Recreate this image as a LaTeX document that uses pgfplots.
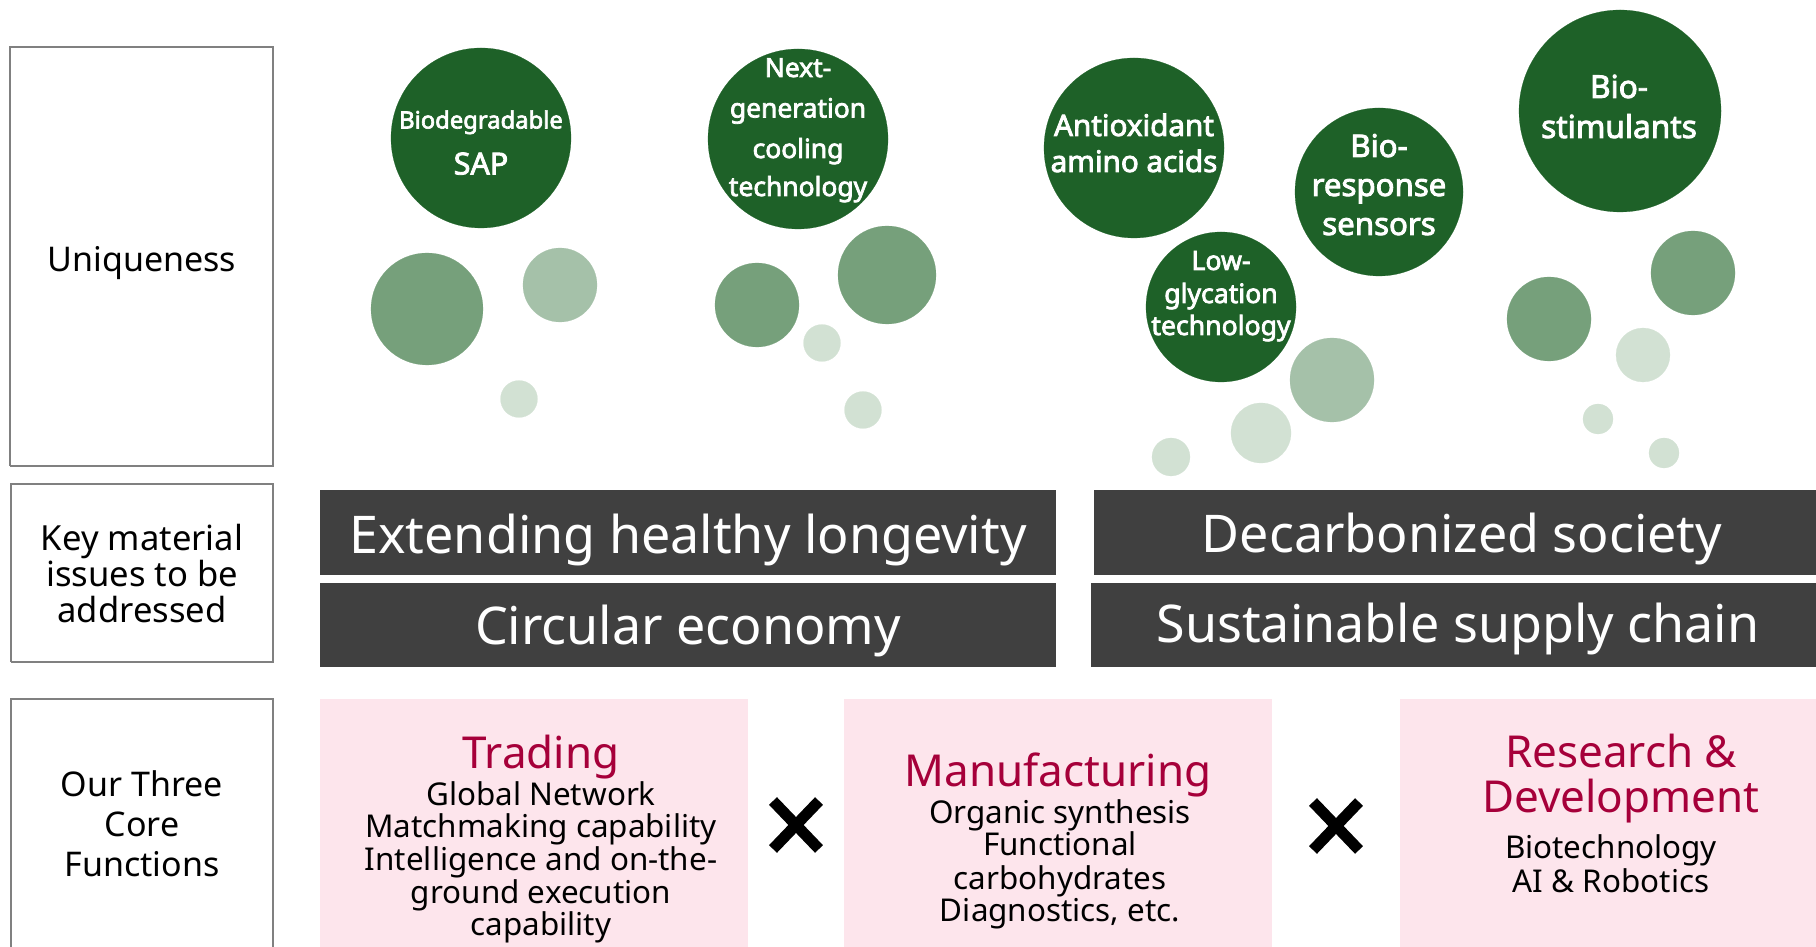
\documentclass[border=0pt]{standalone}
\usepackage{pgfplots}
\pgfplotsset{compat=1.18}
\usepackage{fontspec}
\setmainfont{Noto Sans}
\newfontfamily\bubfont{Noto Sans}[FakeBold=2.8]
\definecolor{dkg}{HTML}{1E6128}
\definecolor{mdg}{HTML}{76A07B}
\definecolor{ltg}{HTML}{A5C1A9}
\definecolor{vlg}{HTML}{D2E1D3}
\definecolor{pinkbg}{HTML}{FDE5EC}
\definecolor{crim}{HTML}{A6003A}
\definecolor{barg}{HTML}{404040}
\definecolor{boxg}{HTML}{808080}
\newcommand{\fs}[1]{\fontsize{#1bp}{#1bp}\selectfont}
\newcommand{\bt}[1]{\bubfont\fontsize{#1bp}{#1bp}\selectfont}

% bubble: #1 colour, #2 radius in px (1px = 0.5bp)
\pgfplotsset{bubble/.style 2 args={only marks, mark=*, mark size=#2*0.5bp,
  mark options={draw=#1, fill=#1, line width=0.1pt}}}

\begin{document}
\begin{tikzpicture}
\begin{axis}[at={(0,0)}, anchor=south west, scale only axis,
  width=908bp, height=473.5bp,
  xmin=0, xmax=1816, ymin=0, ymax=947,
  hide axis, clip=false, set layers]

% left label boxes
\addplot[draw=boxg, line width=1bp] coordinates {(10,481)(273,481)(273,900)(10,900)(10,481)};
\addplot[draw=boxg, line width=1bp] coordinates {(11,285)(273,285)(273,463)(11,463)(11,285)};
\addplot[draw=boxg, line width=1bp] coordinates {(11,0)(11,248)(273,248)(273,0)};

% dark bars
\addplot[fill=barg, draw=none] coordinates {(320,372)(1056,372)(1056,457)(320,457)};
\addplot[fill=barg, draw=none] coordinates {(320,280)(1056,280)(1056,364)(320,364)};
\addplot[fill=barg, draw=none] coordinates {(1094,372)(1816,372)(1816,457)(1094,457)};
\addplot[fill=barg, draw=none] coordinates {(1091,280)(1816,280)(1816,364)(1091,364)};

% pink boxes
\addplot[fill=pinkbg, draw=none] coordinates {(320,0)(748,0)(748,248)(320,248)};
\addplot[fill=pinkbg, draw=none] coordinates {(844,0)(1272,0)(1272,248)(844,248)};
\addplot[fill=pinkbg, draw=none] coordinates {(1400,0)(1816,0)(1816,248)(1400,248)};

% multiplication marks
\addplot[draw=black, line width=5.5bp] coordinates {(773,146)(819,98)};
\addplot[draw=black, line width=5.5bp] coordinates {(773,98)(819,146)};
\addplot[draw=black, line width=5.5bp] coordinates {(1313,145)(1359,97)};
\addplot[draw=black, line width=5.5bp] coordinates {(1313,97)(1359,145)};

% bubbles: very light
\addplot[bubble={vlg}{18.5}] coordinates {(519,548)};
\addplot[bubble={vlg}{18.5}] coordinates {(822,604)};
\addplot[bubble={vlg}{18.5}] coordinates {(863,537)};
\addplot[bubble={vlg}{30}] coordinates {(1261,514)};
\addplot[bubble={vlg}{19}] coordinates {(1171,490)};
\addplot[bubble={vlg}{27}] coordinates {(1643,592)};
\addplot[bubble={vlg}{15}] coordinates {(1598,528)};
\addplot[bubble={vlg}{15}] coordinates {(1664,494)};
% light
\addplot[bubble={ltg}{37}] coordinates {(560,662)};
\addplot[bubble={ltg}{42}] coordinates {(1332,567)};
% medium
\addplot[bubble={mdg}{56}] coordinates {(427,638)};
\addplot[bubble={mdg}{42}] coordinates {(757,642)};
\addplot[bubble={mdg}{49}] coordinates {(887,672)};
\addplot[bubble={mdg}{42}] coordinates {(1549,628)};
\addplot[bubble={mdg}{42}] coordinates {(1693,674)};
% dark
\addplot[bubble={dkg}{90}] coordinates {(481,809)};
\addplot[bubble={dkg}{90}] coordinates {(798,808)};
\addplot[bubble={dkg}{90}] coordinates {(1134,799)};
\addplot[bubble={dkg}{75}] coordinates {(1221,640)};
\addplot[bubble={dkg}{84}] coordinates {(1379,755)};
\addplot[bubble={dkg}{101}] coordinates {(1620,836)};

\begin{pgfonlayer}{axis foreground}
% left labels
\node[anchor=base, inner sep=0pt] at (142,675) {\fs{17}Uniqueness};
\node[anchor=base, inner sep=0pt] at (142,396) {\fs{17.3}Key material};
\node[anchor=base, inner sep=0pt] at (142,360) {\fs{17.3}issues to be};
\node[anchor=base, inner sep=0pt] at (142,324) {\fs{17.3}addressed};
\node[anchor=base, inner sep=0pt] at (142,150) {\fs{17}Our Three};
\node[anchor=base, inner sep=0pt] at (142,110) {\fs{17}Core};
\node[anchor=base, inner sep=0pt] at (142,70) {\fs{17}Functions};

% bar texts
\node[anchor=base, inner sep=0pt, text=white] at (688,393) {\fs{26}Extending healthy longevity};
\node[anchor=base, inner sep=0pt, text=white] at (688,302) {\fs{26}Circular economy};
\node[anchor=base, inner sep=0pt, text=white] at (1462,394) {\fs{26}Decarbonized society};
\node[anchor=base, inner sep=0pt, text=white] at (1458,304) {\fs{26}Sustainable supply chain};

% pink box texts
\node[anchor=base, inner sep=0pt, text=crim] at (541,178) {\fs{22}Trading};
\node[anchor=base, inner sep=0pt] at (541,141) {\fs{15.7}Global Network};
\node[anchor=base, inner sep=0pt] at (541,109) {\fs{15.7}Matchmaking capability};
\node[anchor=base, inner sep=0pt] at (541,76) {\fs{15.7}Intelligence and on-the-};
\node[anchor=base, inner sep=0pt] at (541,44) {\fs{15.7}ground execution};
\node[anchor=base, inner sep=0pt] at (541,12) {\fs{15.7}capability};

\node[anchor=base, inner sep=0pt, text=crim] at (1058,160) {\fs{22}Manufacturing};
\node[anchor=base, inner sep=0pt] at (1060,123) {\fs{15.7}Organic synthesis};
\node[anchor=base, inner sep=0pt] at (1060,91) {\fs{15.7}Functional};
\node[anchor=base, inner sep=0pt] at (1060,58) {\fs{15.7}carbohydrates};
\node[anchor=base, inner sep=0pt] at (1060,26) {\fs{15.7}Diagnostics, etc.};

\node[anchor=base, inner sep=0pt, text=crim] at (1621,179) {\fs{22}Research \&};
\node[anchor=base, inner sep=0pt, text=crim] at (1621,134) {\fs{22}Development};
\node[anchor=base, inner sep=0pt] at (1611,88) {\fs{15.7}Biotechnology};
\node[anchor=base, inner sep=0pt] at (1611,55) {\fs{15.7}AI \& Robotics};

% bubble texts
\node[anchor=base, inner sep=0pt, text=white] at (481,818.5) {\bt{11.9}Biodegradable};
\node[anchor=base, inner sep=0pt, text=white] at (481,772.5) {\bt{15.2}SAP};
\node[anchor=base, inner sep=0pt, text=white] at (798,870) {\bt{13.2}Next-};
\node[anchor=base, inner sep=0pt, text=white] at (798,829.5) {\bt{13.2}generation};
\node[anchor=base, inner sep=0pt, text=white] at (798,789) {\bt{13.2}cooling};
\node[anchor=base, inner sep=0pt, text=white] at (798,751) {\bt{13.2}technology};
\node[anchor=base, inner sep=0pt, text=white] at (1134,811) {\bt{14.8}Antioxidant};
\node[anchor=base, inner sep=0pt, text=white] at (1134,775) {\bt{14.8}amino acids};
\node[anchor=base, inner sep=0pt, text=white] at (1379,790) {\bt{15.6}Bio-};
\node[anchor=base, inner sep=0pt, text=white] at (1379,751) {\bt{15.6}response};
\node[anchor=base, inner sep=0pt, text=white] at (1379,712) {\bt{15.6}sensors};
\node[anchor=base, inner sep=0pt, text=white] at (1221,677) {\bt{13.3}Low-};
\node[anchor=base, inner sep=0pt, text=white] at (1221,644) {\bt{13.3}glycation};
\node[anchor=base, inner sep=0pt, text=white] at (1221,612) {\bt{13.3}technology};
\node[anchor=base, inner sep=0pt, text=white] at (1619,849) {\bt{15.8}Bio-};
\node[anchor=base, inner sep=0pt, text=white] at (1619,809) {\bt{15.8}stimulants};
\end{pgfonlayer}
\end{axis}
\pgfresetboundingbox
\path[use as bounding box] (0,0) rectangle (908bp,473.5bp);
\end{tikzpicture}
\end{document}
